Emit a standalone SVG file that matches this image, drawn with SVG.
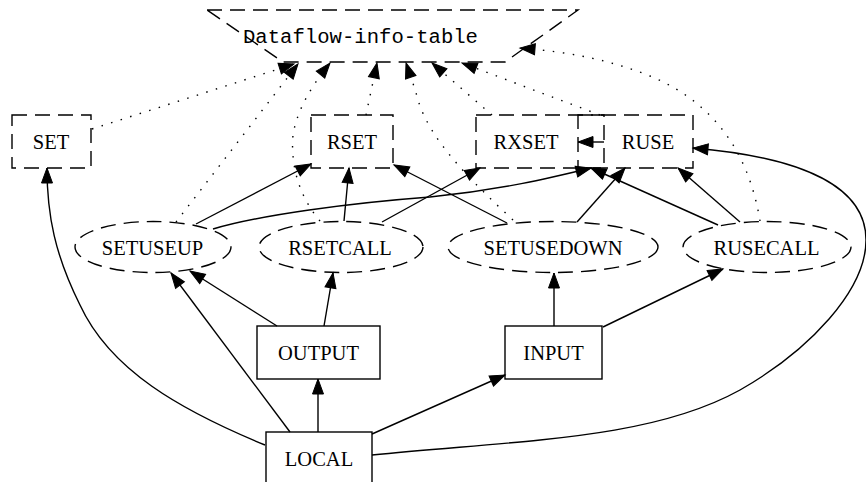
<svg xmlns="http://www.w3.org/2000/svg" width="866" height="482" viewBox="0 0 866 482">
  <style>
    .lbl { font-family: "Liberation Serif", "Times New Roman", serif; font-size: 20.5px; fill: #000; text-anchor: middle; }
    .mono { font-family: "Liberation Mono", "Courier New", monospace; font-size: 20.5px; fill: #000; }
    .dash { fill: none; stroke: #000; stroke-width: 1.4; stroke-dasharray: 15 8; }
    .solidbox { fill: none; stroke: #000; stroke-width: 1.4; }
    .edge { fill: none; stroke: #000; stroke-width: 1.4; marker-end: url(#arrow); }
    .dot { fill: none; stroke: #000; stroke-width: 1.4; stroke-dasharray: 1.5 8.5; marker-end: url(#arrow); }
  </style>
  <defs>
    <marker id="arrow" markerUnits="userSpaceOnUse" markerWidth="16" markerHeight="12" refX="15" refY="5.5" orient="auto" overflow="visible">
      <path d="M0,0 L15,5.5 L0,11 z" fill="#000" stroke="#000" stroke-width="1"/>
    </marker>
  </defs>
  <rect width="866" height="482" fill="#fff"/>

  <!-- connectors -->
  <g id="edges">
    <!-- solid -->
    <path class="edge" d="M265,445 C180,410 110,370 80,305 C55,255 47,215 47,168"/>
    <path class="edge" d="M290,432 L171,273"/>
    <path class="edge" d="M318,432 L318,379"/>
    <path class="edge" d="M372,434 L505,375"/>
    <path class="edge" d="M372,455 C520,440 650,440 740,390 C810,350 866,290 866,240 C866,190 810,158 693,148"/>
    <path class="edge" d="M277,326 L190,271"/>
    <path class="edge" d="M324,326 L333,273"/>
    <path class="edge" d="M554,326 L554,273"/>
    <path class="edge" d="M603,327 L723,269"/>
    <path class="edge" d="M196,224 L311,164"/>
    <path class="edge" d="M213,229 C260,215 350,203 430,197 C500,190 550,178 591,168"/>
    <path class="edge" d="M344,221 L349,168"/>
    <path class="edge" d="M382,222 L480,168"/>
    <path class="edge" d="M507,223 L394,165"/>
    <path class="edge" d="M577,222 L625,168"/>
    <path class="edge" d="M740,222 L678,168"/>
    <path class="edge" d="M718,225 L591,168"/>
    <path class="edge" d="M604,142 L578,142"/>
    <!-- dotted, into the table -->
    <path class="dot" d="M92,129 L294,64"/>
    <path class="dot" d="M176,222 L298,64"/>
    <path class="dot" d="M320,221 C302,200 290,170 293,135 C297,110 312,85 330,63"/>
    <path class="dot" d="M366,115 L377,63"/>
    <path class="dot" d="M513,220 C470,180 430,140 418,100 C414,85 410,75 406,63"/>
    <path class="dot" d="M492,115 L432,63"/>
    <path class="dot" d="M600,115 L462,63"/>
    <path class="dot" d="M760,221 C750,160 720,105 650,76 C610,60 570,52 520,48"/>
  </g>

  <g id="Dataflow-info-table">
    <polygon class="dash" points="207,10 578,10 505,62 283,62"/>
    <text class="mono" x="243" y="43" textLength="235" lengthAdjust="spacingAndGlyphs">Dataflow-info-table</text>
  </g>

  <g id="SET">
    <rect class="dash" x="12" y="115" width="79" height="53"/>
    <text class="lbl" x="51" y="149">SET</text>
  </g>
  <g id="RSET">
    <rect class="dash" x="311" y="115" width="82" height="53"/>
    <text class="lbl" x="352" y="149">RSET</text>
  </g>
  <g id="RXSET">
    <rect class="dash" x="476" y="115" width="128" height="53"/>
    <text class="lbl" x="526" y="149">RXSET</text>
  </g>
  <g id="RUSE">
    <rect class="dash" x="578" y="115" width="115" height="53"/>
    <text class="lbl" x="648" y="149">RUSE</text>
  </g>

  <g id="SETUSEUP">
    <ellipse class="dash" cx="153" cy="247" rx="78" ry="25.5"/>
    <text class="lbl" x="152.5" y="255">SETUSEUP</text>
  </g>
  <g id="RSETCALL">
    <ellipse class="dash" cx="341" cy="247" rx="82" ry="25.5"/>
    <text class="lbl" x="340" y="255">RSETCALL</text>
  </g>
  <g id="SETUSEDOWN">
    <ellipse class="dash" cx="553" cy="247" rx="105" ry="25.5"/>
    <text class="lbl" x="553" y="255">SETUSEDOWN</text>
  </g>
  <g id="RUSECALL">
    <ellipse class="dash" cx="767" cy="247" rx="84" ry="25.5"/>
    <text class="lbl" x="766.5" y="255">RUSECALL</text>
  </g>

  <g id="OUTPUT">
    <rect class="solidbox" x="257" y="326" width="123" height="53"/>
    <text class="lbl" x="318.5" y="360">OUTPUT</text>
  </g>
  <g id="INPUT">
    <rect class="solidbox" x="505" y="326" width="97" height="53"/>
    <text class="lbl" x="553.5" y="360">INPUT</text>
  </g>
  <g id="LOCAL">
    <rect class="solidbox" x="266" y="432" width="106" height="54"/>
    <text class="lbl" x="319" y="466">LOCAL</text>
  </g>
</svg>
